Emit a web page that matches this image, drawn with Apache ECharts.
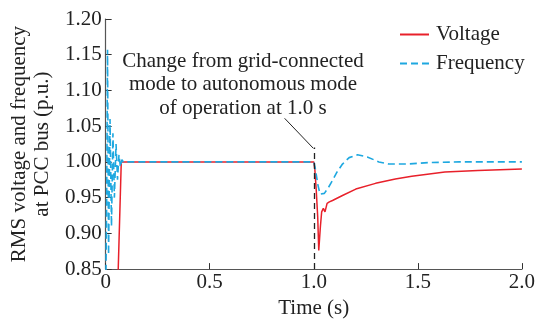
<!DOCTYPE html>
<html><head><meta charset="utf-8">
<script src="https://cdn.jsdelivr.net/npm/echarts@6/dist/echarts.min.js"></script>
<style>html,body{margin:0;padding:0;background:#fff}#c{width:538px;height:324px}</style>
</head><body><div id="c"></div>
<script>
// Time (s) / value (p.u.) pairs
const voltageTime = [0, 0.058, 0.0605, 0.075, 1.0, 1.005, 1.012, 1.019, 1.024, 1.028, 1.032, 1.038, 1.046, 1.054, 1.064, 1.075, 1.09, 1.138, 1.202, 1.297, 1.392, 1.471, 1.63, 1.789, 2.0];
const voltageVals = [0.80, 0.80, 0.85, 1.0, 1.0, 0.99, 0.96, 0.923, 0.876, 0.893, 0.91, 0.93, 0.935, 0.93, 0.942, 0.944, 0.946, 0.953, 0.962, 0.970, 0.976, 0.980, 0.986, 0.988, 0.99];
const freqTime = [0, 0.005, 0.009, 0.014, 0.021, 0.028, 0.035, 0.042, 0.05, 0.057, 0.064, 0.071, 0.078, 0.085, 1.0, 1.008, 1.019, 1.03, 1.051, 1.07, 1.09, 1.11, 1.138, 1.17, 1.21, 1.257, 1.313, 1.36, 1.448, 1.55, 1.7, 2.0];
const freqVals = [0.80, 0.95, 1.157, 0.87, 1.06, 0.91, 1.04, 0.95, 1.025, 0.975, 1.01, 0.993, 1.003, 1.0, 1.0, 0.99, 0.969, 0.955, 0.956, 0.964, 0.974, 0.985, 0.997, 1.006, 1.010, 1.007, 1.0, 0.997, 0.997, 0.999, 1.0, 1.0];
const xTicks = [0, 0.5, 1.0, 1.5, 2.0];
const yTicks = [0.85, 0.90, 0.95, 1.00, 1.05, 1.10, 1.15, 1.20];
const switchMarker = [[1.0, 0.85], [1.0, 1.02]];
const leader = [[0.86, 1.061], [0.998, 1.019]];
const annotation = 'Change from grid-connected\nmode to autonomous mode\nof operation at 1.0 s';

const font = 'Liberation Serif';
const fs = 21;
const zip = (a, b) => a.map((t, i) => [t, b[i]]);
const chart = echarts.init(document.getElementById('c'), null, {renderer: 'canvas'});
chart.setOption({
  animation: false,
  backgroundColor: '#fff',
  grid: {left: 104, right: 14, top: 19, bottom: 52, containLabel: false},
  legend: {
    orient: 'vertical', left: 394, top: 19, itemWidth: 29, itemHeight: 14, itemGap: 8,
    itemStyle: {opacity: 0},
    textStyle: {fontFamily: font, fontSize: fs, color: '#222', padding: [0, 0, 0, 2]},
    data: ['Voltage', 'Frequency']
  },
  xAxis: {
    type: 'value', min: xTicks[0], max: xTicks[xTicks.length - 1], interval: 0.5,
    name: 'Time (s)', nameLocation: 'middle', nameGap: 22,
    nameTextStyle: {fontFamily: font, fontSize: fs, color: '#222'},
    axisLine: {lineStyle: {color: '#555', width: 1.2}},
    axisTick: {inside: true, length: 6, lineStyle: {color: '#333'}},
    axisLabel: {fontFamily: font, fontSize: fs, color: '#222', margin: 3,
      formatter: v => v === 0 ? '0' : v.toFixed(1)},
    splitLine: {show: false}
  },
  yAxis: {
    type: 'value', min: yTicks[0], max: yTicks[yTicks.length - 1], interval: 0.05,
    name: 'RMS voltage and frequency\nat PCC bus (p.u.)', nameLocation: 'middle', nameGap: 45,
    nameTextStyle: {fontFamily: font, fontSize: fs, color: '#222', lineHeight: 23},
    axisLine: {show: true, lineStyle: {color: '#555', width: 1.2}},
    axisTick: {show: true, inside: true, length: 6, lineStyle: {color: '#333'}},
    axisLabel: {fontFamily: font, fontSize: fs, color: '#222', margin: 4,
      formatter: v => v.toFixed(2)},
    splitLine: {show: false}
  },
  graphic: [{
    type: 'text', x: 243, y: 50,
    style: {text: annotation, fontFamily: font, fontSize: fs, fill: '#222', align: 'center', verticalAlign: 'top', lineHeight: 23.3}
  }],
  series: [
    {
      name: 'Voltage', type: 'line', data: zip(voltageTime, voltageVals), symbol: 'none', clip: true,
      lineStyle: {color: '#e8202a', width: 1.5}, itemStyle: {color: '#e8202a'}, z: 3,
      markLine: {
        silent: true, symbol: 'none', label: {show: false},
        data: [
          [{coord: switchMarker[0], lineStyle: {color: '#222', type: [6, 4], width: 1.3}}, {coord: switchMarker[1]}],
          [{coord: leader[0], lineStyle: {color: '#222', type: 'solid', width: 1}}, {coord: leader[1]}]
        ]
      }
    },
    {
      name: 'Frequency', type: 'line', data: zip(freqTime, freqVals), symbol: 'none', clip: true,
      lineStyle: {color: '#1ea8e0', width: 1.6, type: [7, 4]}, itemStyle: {color: '#1ea8e0'}, z: 4
    }
  ]
});
</script></body></html>
